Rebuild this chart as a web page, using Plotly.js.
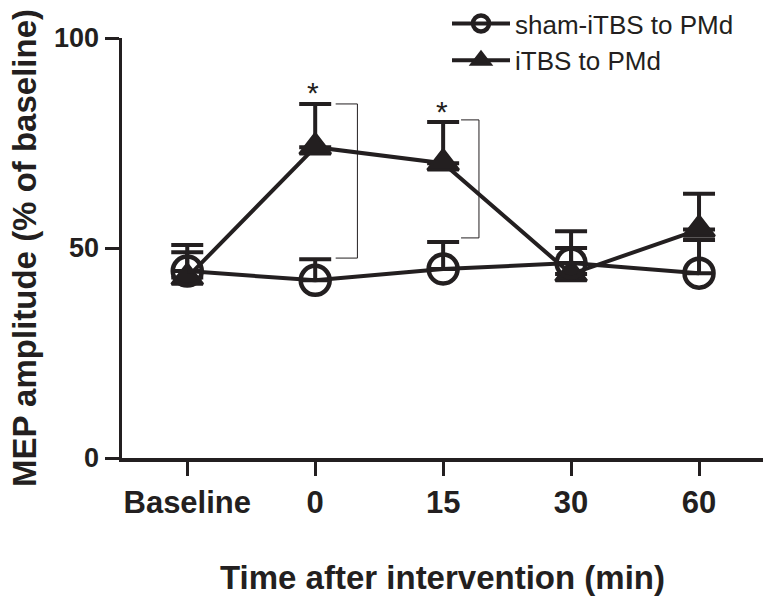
<!DOCTYPE html>
<html>
<head>
<meta charset="utf-8">
<script src="https://cdn.plot.ly/plotly-3.0.1.min.js"></script>
<style>html,body{margin:0;padding:0;background:#fff;}#chart{width:770px;height:602px;}</style>
</head>
<body>
<div id="chart"></div>
<script>
// ---- data ----
var categories = ['Baseline', '0', '15', '30', '60'];
var shamMean = [44.5, 42.3, 45.0, 46.4, 44.0];
var shamErr  = [6.2, 5.0, 6.4, 7.6, 7.9];
var itbsMean = [43.0, 74.0, 70.2, 43.8, 54.4];
var itbsErr  = [6.0, 10.3, 9.8, 6.2, 8.5];
var yTickVals = [0, 50, 100];
var yTickText = ['0', '50', '100'];
// significance brackets: [x from, x to], [y top, y bottom]
var bracketX = [[1.16, 1.33], [2.14, 2.28]];
var bracketY = [[84.3, 47.6], [80.5, 52.4]];
var starX = [0.98, 1.99];
var starY = [87.0, 82.4];

var ink = '#231f20';
var xIdx = categories.map(function (c, i) { return i; });
var zeros = categories.map(function () { return 0; });

var itbs = {
  type: 'scatter', mode: 'lines+markers', name: 'iTBS to PMd',
  x: xIdx, y: itbsMean, legendrank: 2,
  line: {color: ink, width: 4},
  marker: {symbol: 'triangle-up', size: 27, color: ink, line: {color: ink, width: 3}},
  error_y: {type: 'data', symmetric: false, array: itbsErr, arrayminus: zeros,
            color: ink, thickness: 4, width: 16},
  cliponaxis: false
};
var sham = {
  type: 'scatter', mode: 'lines+markers', name: 'sham-iTBS to PMd',
  x: xIdx, y: shamMean, legendrank: 1,
  line: {color: ink, width: 4},
  marker: {symbol: 'circle', size: 29, color: 'rgba(0,0,0,0)', line: {color: ink, width: 4.5}},
  error_y: {type: 'data', symmetric: false, array: shamErr, arrayminus: zeros,
            color: ink, thickness: 4, width: 16},
  cliponaxis: false
};

var shapes = bracketX.map(function (bx, i) {
  var by = bracketY[i];
  return {
    type: 'path', xref: 'x', yref: 'y',
    path: 'M ' + bx[0] + ' ' + by[0] + ' L ' + bx[1] + ' ' + by[0] +
          ' L ' + bx[1] + ' ' + by[1] + ' L ' + bx[0] + ' ' + by[1],
    line: {color: ink, width: 1}
  };
});

var annotations = starX.map(function (sx, i) {
  return {x: sx, y: starY[i], xref: 'x', yref: 'y', text: '*', showarrow: false,
          font: {family: 'Arial, Liberation Sans, sans-serif', size: 30, color: ink},
          xanchor: 'center', yanchor: 'middle'};
});

var layout = {
  width: 770, height: 602,
  margin: {l: 122, r: 7, t: 0, b: 144},
  paper_bgcolor: '#ffffff', plot_bgcolor: '#ffffff',
  font: {family: 'Arial, Liberation Sans, sans-serif', color: ink},
  showlegend: true,
  legend: {
    x: (447 - 122) / 641, y: 1, xanchor: 'left', yanchor: 'top',
    font: {size: 26, color: ink}, itemwidth: 58, bgcolor: 'rgba(0,0,0,0)',
    traceorder: 'normal', tracegroupgap: 4
  },
  xaxis: {
    range: [-0.51, 4.5], tickvals: xIdx, ticktext: categories,
    showline: true, linecolor: ink, linewidth: 3.5,
    ticks: 'outside', ticklen: 14, tickwidth: 3, tickcolor: ink,
    showgrid: false, zeroline: false, fixedrange: true,
    tickfont: {size: 31, weight: 'bold', color: ink},
    title: {text: 'Time after intervention (min)', standoff: 48,
            font: {size: 33, weight: 'bold', color: ink}}
  },
  yaxis: {
    domain: [0, 420 / 458],
    range: [0, 100], tickvals: yTickVals, ticktext: yTickText,
    showline: true, linecolor: ink, linewidth: 3.5,
    ticks: 'outside', ticklen: 14, tickwidth: 3, tickcolor: ink,
    showgrid: false, zeroline: false, fixedrange: true,
    tickfont: {size: 27, weight: 'bold', color: ink},
    title: {text: 'MEP amplitude (% of baseline)', standoff: 8,
            font: {size: 33, weight: 'bold', color: ink}}
  },
  shapes: shapes,
  annotations: annotations
};

Plotly.newPlot('chart', [itbs, sham], layout, {displayModeBar: false, staticPlot: true});
</script>
</body>
</html>
